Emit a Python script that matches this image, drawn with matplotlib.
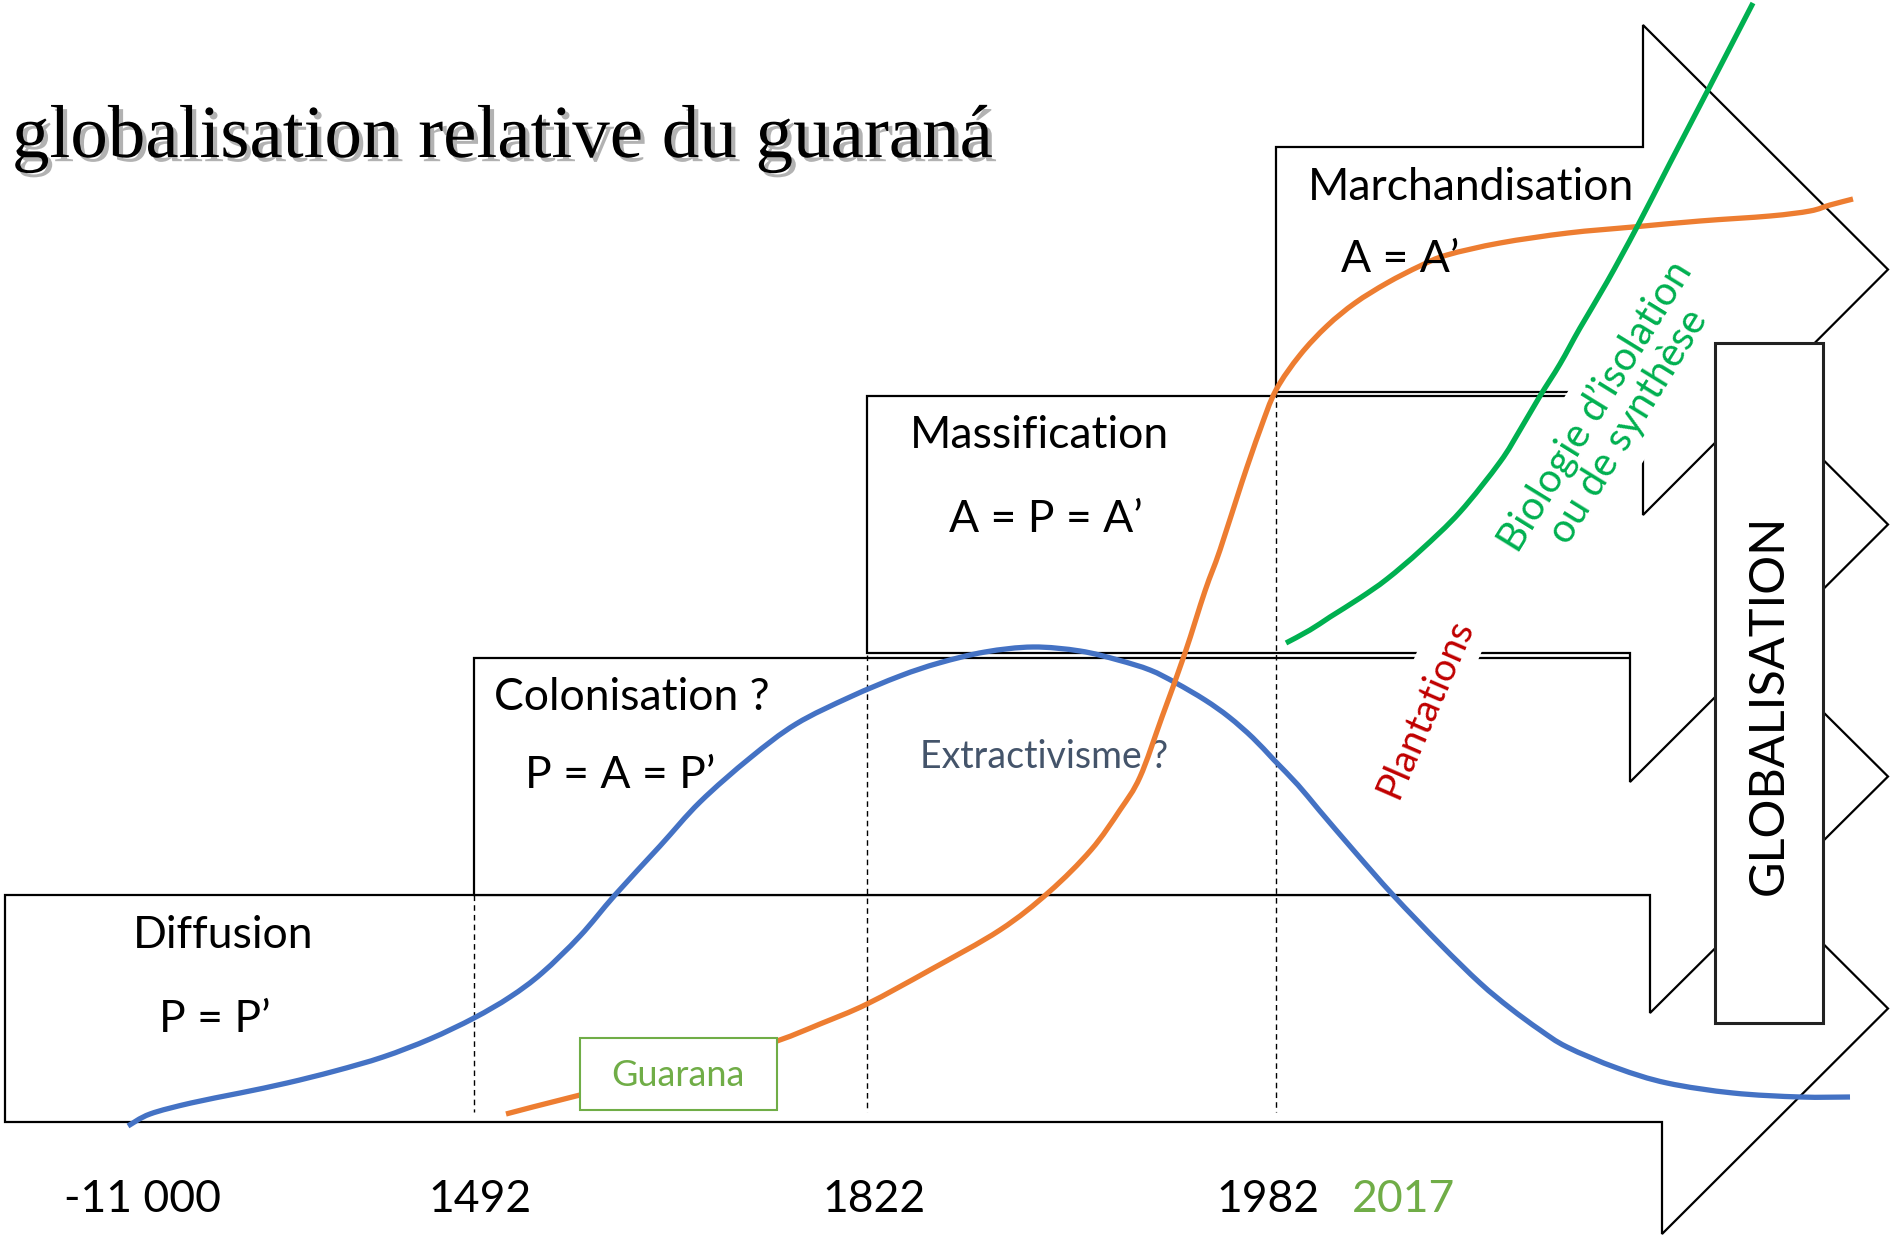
import matplotlib
matplotlib.use("Agg")
import matplotlib.pyplot as plt
from matplotlib.patches import Polygon, Rectangle, PathPatch
from matplotlib.path import Path
import matplotlib.patheffects as pe

# ---------------- data (pixel coordinates) ----------------
title = "globalisation relative du guaraná"
stage_names = ["Diffusion", "Colonisation ?", "Massification", "Marchandisation"]
stage_formulas = ["P = P’", "P = A = P’", "A = P = A’", "A = A’"]
year_labels = ["-11 000", "1492", "1822", "1982", "2017"]
year_x = [142, 480, 874, 1268, 1403]

# blue curve
blue_x = [128, 150, 191, 240, 287, 335, 383, 430, 474, 510, 542, 580, 615, 660, 700, 750,
          796, 850, 900, 939, 985, 1033, 1080, 1118, 1150, 1176, 1205, 1229, 1253, 1274,
          1298, 1319, 1355, 1393, 1440, 1480, 1510, 1540, 1567, 1617, 1667, 1733, 1800, 1850]
blue_y = [1126, 1114, 1103, 1093, 1083, 1071, 1057, 1039, 1018, 997, 973, 936, 895, 846, 802, 758,
          724, 697, 676, 663, 652, 647, 651, 660, 670, 683, 700, 717, 738, 760,
          785, 810, 852, 895, 944, 983, 1008, 1030, 1047, 1068, 1083, 1093, 1097, 1097]

# orange curve (Guarana)
orange_x = [506, 580, 700, 777, 820, 867, 930, 1000, 1049, 1091, 1120, 1140, 1162, 1185, 1205,
            1220, 1242, 1260, 1276, 1300, 1327, 1355, 1387, 1420, 1447, 1500, 1568, 1633, 1700,
            1770, 1810, 1830, 1853]
orange_y = [1114, 1095, 1066, 1041, 1024, 1004, 970, 930, 892, 850, 810, 777, 717, 653, 591,
            550, 482, 430, 390, 355, 326, 303, 283, 266, 255, 243, 233, 227, 221,
            216, 211, 205, 199]

# green curve
green_x = [1286, 1310, 1330, 1360, 1387, 1421, 1460, 1500, 1520, 1540, 1560, 1580, 1607, 1637,
           1670, 1708, 1753]
green_y = [643, 630, 617, 598, 579, 550, 512, 462, 430, 396, 364, 328, 282, 227,
           163, 90, 3]

# ---------------- geometry ----------------
# (left, top, bottom, neck_x, head_top, head_bottom, tip_x)
arrows = [
    (5, 895, 1122, 1662, 783, 1234, 1888),     # Diffusion
    (474, 658, 895, 1650, 540, 1013, 1888),    # Colonisation
    (867, 396, 653, 1630, 267, 782, 1888),     # Massification
    (1276, 147, 392, 1643, 25, 515, 1888),     # Marchandisation
]


def smooth_path(xs, ys):
    """Cubic Bezier path through the given points (Catmull-Rom tangents)."""
    pts = list(zip(xs, ys))
    verts = [pts[0]]
    codes = [Path.MOVETO]
    n = len(pts)
    for i in range(n - 1):
        p0 = pts[i - 1] if i > 0 else pts[i]
        p1 = pts[i]
        p2 = pts[i + 1]
        p3 = pts[i + 2] if i + 2 < n else pts[i + 1]
        c1 = (p1[0] + (p2[0] - p0[0]) / 6.0, p1[1] + (p2[1] - p0[1]) / 6.0)
        c2 = (p2[0] - (p3[0] - p1[0]) / 6.0, p2[1] - (p3[1] - p1[1]) / 6.0)
        verts += [c1, c2, p2]
        codes += [Path.CURVE4, Path.CURVE4, Path.CURVE4]
    return Path(verts, codes)


fig = plt.figure(figsize=(18.91, 12.37), dpi=100)
ax = fig.add_axes([0, 0, 1, 1])
ax.set_xlim(0, 1891)
ax.set_ylim(1237, 0)
ax.axis("off")

for i, (l, t, b, nx, ht, hb, tx) in enumerate(arrows):
    cy = (t + b) / 2
    pts = [(l, t), (nx, t), (nx, ht), (tx, cy), (nx, hb), (nx, b), (l, b)]
    ax.add_patch(Polygon(pts, closed=True, fc="white", ec="black", lw=1.6,
                         zorder=1 + i, joinstyle="miter"))

# dashed period separators
for x0, y0 in [(474, 895), (867, 655), (1276, 392)]:
    ax.plot([x0, x0], [y0, 1112], color="black", lw=1.0, ls=(0, (4, 3)), zorder=5)

FONT = "Lato"
LS = 32

# stage labels
ax.text(223, 935, stage_names[0], fontsize=LS, family=FONT, ha="center", va="center", zorder=9)
ax.text(215, 1019, stage_formulas[0], fontsize=LS, family=FONT, ha="center", va="center", zorder=9)
ax.text(494, 698, stage_names[1], fontsize=LS, family=FONT, ha="left", va="center", zorder=9)
ax.text(525, 775, stage_formulas[1], fontsize=LS, family=FONT, ha="left", va="center", zorder=9)
ax.text(910, 435, stage_names[2], fontsize=LS, family=FONT, ha="left", va="center", zorder=9)
ax.text(949, 519, stage_formulas[2], fontsize=LS, family=FONT, ha="left", va="center", zorder=9)
ax.text(1308, 187, stage_names[3], fontsize=LS, family=FONT, ha="left", va="center", zorder=9)
ax.text(1341, 259, stage_formulas[3], fontsize=LS, family=FONT, ha="left", va="center", zorder=9)

ax.text(920, 757, "Extractivisme ?", fontsize=27, family=FONT, color="#44546A",
        ha="left", va="center", zorder=6)

ax.text(1425, 708, "Plantations", fontsize=28, family=FONT, color="#C00000",
        rotation=66.6, rotation_mode="anchor", ha="center", va="center", zorder=6,
        bbox=dict(boxstyle="square,pad=0.3", fc="white", ec="none"))

ax.text(1612, 416, "Biologie d’isolation\nou de synthèse", fontsize=29, family=FONT,
        color="#00B050", rotation=58.3, rotation_mode="anchor", ha="center", va="center",
        multialignment="center", linespacing=1.05, zorder=6,
        bbox=dict(boxstyle="square,pad=0.3", fc="white", ec="none"))

# GLOBALISATION box
ax.add_patch(Rectangle((1715, 343), 108, 680, fc="white", ec="#222222", lw=2.2, zorder=7))
ax.text(1769, 705, "GLOBALISATION", fontsize=35, family=FONT, rotation=90,
        ha="center", va="center", zorder=9)

# curves
for xs, ys, col in [(blue_x, blue_y, "#4472C4"), (orange_x, orange_y, "#ED7D31"),
                    (green_x, green_y, "#00B050")]:
    ax.add_patch(PathPatch(smooth_path(xs, ys), fc="none", ec=col, lw=3.8,
                           capstyle="butt", zorder=8))

# Guarana label box
ax.add_patch(Rectangle((580, 1038), 197, 72, fc="white", ec="#70AD47", lw=1.5, zorder=8.5))
ax.text(678, 1075, "Guarana", fontsize=26, family=FONT, color="#70AD47",
        ha="center", va="center", zorder=9)

# year labels
for lab, x in zip(year_labels, year_x):
    ax.text(x, 1200, lab, fontsize=LS, family=FONT, ha="center", va="center",
            color="#70AD47" if lab == "2017" else "black", zorder=9)

# title
ax.text(12, 157, title, fontsize=54, family="Liberation Serif", ha="left", va="baseline",
        zorder=9,
        path_effects=[pe.withSimplePatchShadow(offset=(3, -3), shadow_rgbFace="#666666",
                                               alpha=0.5)])

fig.savefig("out.png", dpi=100, facecolor="white")
